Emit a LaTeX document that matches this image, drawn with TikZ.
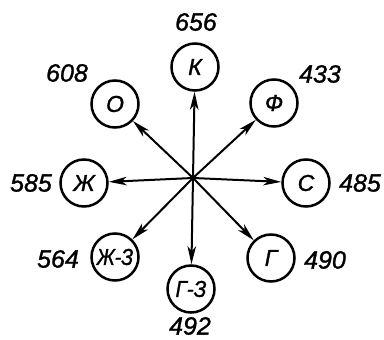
\documentclass[tikz,border=0pt]{standalone}
\usepackage{fontspec}
\setmainfont{Liberation Sans}[ItalicFeatures={FakeBold=1.2}]
\usetikzlibrary{arrows.meta}
\begin{document}
\begin{tikzpicture}[x=1pt,y=1pt,
  ring/.style={circle,draw,line width=2.5pt,minimum size=47pt,inner sep=0pt,font=\fontsize{23}{23}\selectfont\itshape},
  num/.style={font=\fontsize{25}{25}\selectfont\itshape,inner sep=0pt},
  ray/.style={line width=2pt,-{Stealth[length=18pt,width=8.5pt,inset=5pt]}}]
\useasboundingbox (0,0) rectangle (384,340);
\coordinate (c) at (193,162);
\node[ring] (k) at (195,273) {К};
\node[ring] (o) at (115,236) {О};
\node[ring] (f) at (274,237) {Ф};
\node[ring] (zh) at (84,157) {Ж};
\node[ring] (s) at (306,157) {С};
\node[ring] (zh3) at (115,83) {\scalebox{0.85}[1]{Ж-З}};
\node[ring] (g3) at (191,51) {\scalebox{0.9}[1]{Г-З}};
\node[ring] (g) at (271,82) {Г};
\node[num] (n1) at (196,318) {656};
\node[num] (n2) at (67,267) {608};
\node[num] (n3) at (320,266) {433};
\node[num] (n4) at (31,157) {585};
\node[num] (n5) at (360,157) {485};
\node[num] (n6) at (58,81) {564};
\node[num] (n7) at (325,80) {490};
\node[num] (n8) at (190,14) {492};
\foreach \t in {k,o,f,zh,s,zh3,g3,g} \draw[ray] (c) -- (\t);
\end{tikzpicture}
\end{document}
